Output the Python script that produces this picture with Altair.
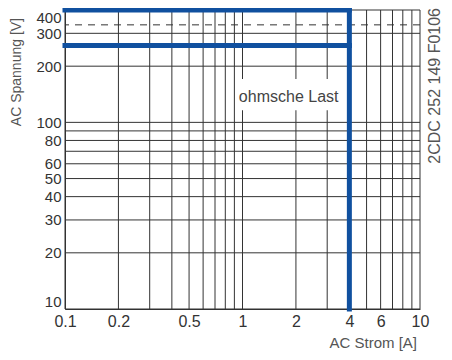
import altair as alt
import pandas as pd

# ---- data ----
x_grid = [0.1, 0.2, 0.3, 0.4, 0.5, 0.6, 0.7, 0.8, 0.9, 1, 2, 3, 4, 5, 6, 7, 8, 9, 10]
y_grid = [10, 20, 30, 40, 50, 60, 70, 80, 90, 100, 200, 300, 400]
x_labels = [0.1, 0.2, 0.5, 1, 2, 4, 6, 10]
y_labels = [10, 20, 30, 40, 50, 60, 80, 100, 200, 300, 400]
dashed_voltage = [333]
# limit curve (ohmic load): segments x, x2, y, y2
seg_x = [0.1, 0.1, 4]
seg_x2 = [4, 4, 4]
seg_y = [400, 258, 10]
seg_y2 = [400, 258, 400]
label_text = ["ohmsche Last"]
label_x = [1.82]
label_y = [137]
box_x = [0.92]
box_x2 = [3.55]
box_y = [116]
box_y2 = [171]

FONT = "Liberation Sans"
GRID = "#333333"
BLUE = "#10509f"

xscale = alt.Scale(type="log", domain=[0.1, 10], nice=False)
yscale = alt.Scale(type="log", domain=[10, 400], nice=False)

xaxis = alt.Axis(values=x_labels, format="~g", grid=False, ticks=False, domain=True,
                 domainColor=GRID, domainWidth=1, labelFont=FONT, labelFontSize=16,
                 labelColor="#333333", labelPadding=4, title=None, labelFlush=False,
                 labelOverlap=False)
yaxis = alt.Axis(values=y_labels, format="~g", grid=False, ticks=False, domain=True,
                 domainColor=GRID, domainWidth=1, labelFont=FONT, labelFontSize=15,
                 labelColor="#333333", labelPadding=4, title=None, labelFlush=True,
                 labelFlushOffset=0, labelOverlap=False)


def X(f):
    return alt.X(f, scale=xscale, axis=xaxis)


def Y(f):
    return alt.Y(f, scale=yscale, axis=yaxis)


vgrid = alt.Chart(pd.DataFrame({"v": x_grid})).mark_rule(color=GRID, strokeWidth=1).encode(
    x=X("v:Q")
)
hgrid = alt.Chart(pd.DataFrame({"v": y_grid})).mark_rule(color=GRID, strokeWidth=1).encode(
    y=Y("v:Q")
)
dashed = alt.Chart(pd.DataFrame({"v": dashed_voltage})).mark_rule(
    color=GRID, strokeWidth=1, strokeDash=[7, 6]
).encode(y=Y("v:Q"))

box = alt.Chart(pd.DataFrame({"x": box_x, "x2": box_x2, "y": box_y, "y2": box_y2})).mark_rect(
    fill="white"
).encode(x=X("x:Q"), x2="x2:Q", y=Y("y:Q"), y2="y2:Q")

label = alt.Chart(pd.DataFrame({"t": label_text, "x": label_x, "y": label_y})).mark_text(
    font=FONT, fontSize=16, color="#444444", align="center", baseline="middle"
).encode(x=X("x:Q"), y=Y("y:Q"), text="t:N")

limit = alt.Chart(pd.DataFrame({"x": seg_x, "x2": seg_x2, "y": seg_y, "y2": seg_y2})).mark_rule(
    color=BLUE, strokeWidth=5, strokeCap="square"
).encode(x=X("x:Q"), x2="x2:Q", y=Y("y:Q"), y2="y2:Q")

ytitle = alt.Chart(pd.DataFrame({"t": ["AC Spannung [V]"]})).mark_text(
    font=FONT, fontSize=14, color="#555555", angle=270, align="right", baseline="middle"
).encode(x=alt.value(-48), y=alt.value(8), text="t:N")
xtitle = alt.Chart(pd.DataFrame({"t": ["AC Strom [A]"]})).mark_text(
    font=FONT, fontSize=15, color="#555555", align="right", baseline="middle"
).encode(x=alt.value(352), y=alt.value(333), text="t:N")
code = alt.Chart(pd.DataFrame({"t": ["2CDC 252 149 F0106"]})).mark_text(
    font=FONT, fontSize=16, color="#555555", angle=270, align="right", baseline="middle"
).encode(x=alt.value(370), y=alt.value(-2), text="t:N")

chart = alt.layer(vgrid, hgrid, dashed, box, label, limit, ytitle, xtitle, code).properties(
    width=355, height=299,
    autosize=alt.AutoSizeParams(type="none"),
    padding={"left": 57, "top": 2, "right": 24, "bottom": 43},
    background="white",
).configure_view(stroke=None)

chart.save("out.html", embed_options={"renderer": "svg", "actions": False})
